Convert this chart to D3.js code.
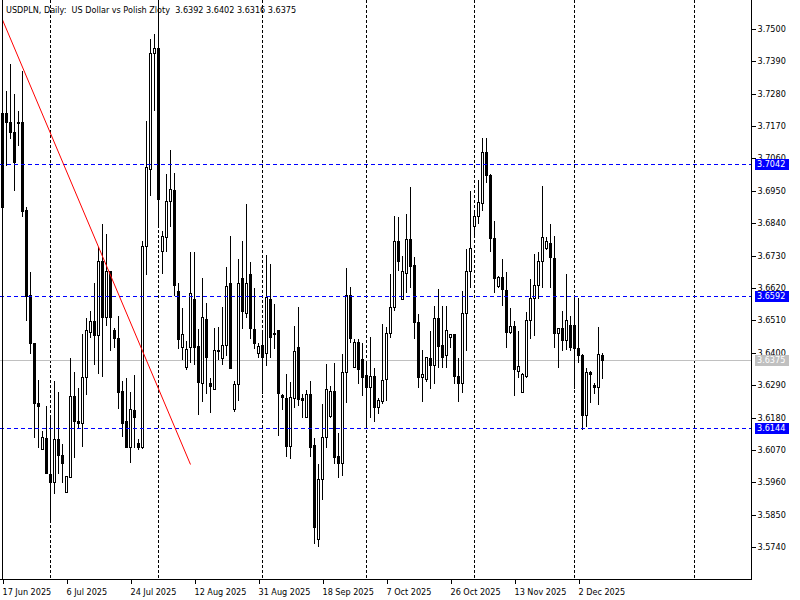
<!DOCTYPE html>
<html><head><meta charset="utf-8">
<script src="https://cdn.jsdelivr.net/npm/d3@7"></script>
<style>
body{margin:0;background:#fff}
svg{display:block}
text{font-family:"DejaVu Sans Condensed","DejaVu Sans",sans-serif;font-size:9px;fill:#000;white-space:pre}
</style>
</head><body>
<svg id="c" width="800" height="600"></svg>
<script>
const title = "USDPLN, Daily:  US Dollar vs Polish Zloty  3.6392 3.6402 3.6316 3.6375";

const opens = [
3.6896,3.7214,3.7182,3.7151,3.7185,3.7185,3.6885,3.6597,3.6435,3.6231,
3.6073,3.6110,3.5989,3.5963,3.6107,3.6054,3.5926,3.5980,3.6254,3.6170,
3.6163,3.6317,3.6469,3.6509,3.6459,3.6710,3.6521,3.6676,3.6476,3.6450,
3.6272,3.6167,3.6082,3.6206,3.6095,3.6082,3.6761,3.7024,3.7417,3.7434,
3.6744,3.6793,3.6914,3.6953,3.6610,3.6419,3.6353,3.6419,3.6582,3.6424,
3.6297,3.6514,3.6299,3.6277,3.6410,3.6382,3.6427,3.6636,3.6209,3.6295,
3.6653,3.6536,3.6668,3.6480,3.6400,3.6427,3.6399,3.6583,3.6467,3.6478,
3.6257,3.6246,3.6085,3.6246,3.6419,3.6246,3.6183,3.6261,3.6087,3.5767,
3.5971,3.6114,3.6186,3.6272,3.6050,3.6027,3.6336,3.6597,3.6353,3.6438,
3.6378,3.6325,3.6285,3.6322,3.6215,3.6238,3.6311,3.6467,3.6555,3.6780,
3.6582,3.6672,3.6786,3.6699,3.6506,3.6317,3.6311,3.6382,3.6359,3.6518,
3.6427,3.6393,3.6455,3.6464,3.6322,3.6299,3.6535,3.6679,3.6829,3.6863,
3.6910,3.7081,3.7004,3.6789,3.6628,3.6659,3.6614,3.6472,3.6492,3.6340,
3.6268,3.6322,3.6512,3.6586,3.6631,3.6710,3.6755,3.6774,3.6721,3.6467,
3.6484,3.6442,3.6495,3.6495,3.6416,3.6393,3.6189,3.6334,3.6291,3.6283,
3.6392];
const highs = [
3.7300,3.7293,3.7383,3.7282,3.7223,3.7361,3.6899,3.6679,3.6435,3.6311,
3.6138,3.6223,3.6186,3.6308,3.6271,3.6093,3.5982,3.6387,3.6340,3.6285,
3.6467,3.6520,3.6546,3.6639,3.6763,3.6842,3.6806,3.6679,3.6489,3.6529,
3.6308,3.6319,3.6272,3.6329,3.6110,3.6784,3.7191,3.7470,3.7487,3.7592,
3.6817,3.7010,3.7092,3.7015,3.6642,3.6557,3.6444,3.6744,3.6747,3.6485,
3.6657,3.6574,3.6319,3.6487,3.6490,3.6559,3.6695,3.6800,3.6308,3.6721,
3.6784,3.6909,3.6712,3.6625,3.6438,3.6472,3.6736,3.6704,3.6569,3.6478,
3.6263,3.6333,3.6306,3.6493,3.6559,3.6263,3.6277,3.6308,3.6114,3.6025,
3.6229,3.6367,3.6291,3.6370,3.6130,3.6401,3.6691,3.6627,3.6450,3.6450,
3.6438,3.6370,3.6458,3.6353,3.6251,3.6501,3.6492,3.6670,3.6868,3.6865,
3.6733,3.6874,3.6967,3.6727,3.6535,3.6412,3.6387,3.6478,3.6563,3.6620,
3.6563,3.6563,3.6464,3.6467,3.6387,3.6614,3.6755,3.6953,3.6883,3.6990,
3.7134,3.7134,3.7010,3.6851,3.6665,3.6721,3.6676,3.6557,3.6512,3.6476,
3.6336,3.6543,3.6653,3.6738,3.6744,3.6970,3.6795,3.6842,3.6800,3.6489,
3.6546,3.6672,3.6529,3.6591,3.6591,3.6399,3.6351,3.6342,3.6302,3.6492,
3.6402];
const lows = [
3.6885,3.7038,3.7129,3.6953,3.7106,3.6863,3.6512,3.6399,3.6114,3.6082,
3.6073,3.5991,3.5833,3.5924,3.5993,3.5963,3.5926,3.5980,3.6046,3.6144,
3.6084,3.6260,3.6455,3.6362,3.6331,3.6322,3.6493,3.6410,3.6421,3.6212,
3.6118,3.6082,3.6031,3.6082,3.6073,3.6076,3.6668,3.6936,3.7225,3.6829,
3.6672,3.6744,3.6829,3.6597,3.6416,3.6378,3.6344,3.6370,3.6362,3.6192,
3.6238,3.6263,3.6200,3.6277,3.6380,3.6362,3.6393,3.6348,3.6204,3.6240,
3.6484,3.6522,3.6451,3.6416,3.6387,3.6263,3.6359,3.6387,3.6416,3.6122,
3.6209,3.6050,3.6042,3.6217,3.6223,3.6181,3.6181,3.6050,3.5754,3.5745,
3.5903,3.6082,3.6181,3.6027,3.5978,3.5986,3.6234,3.6438,3.6353,3.6299,
3.6257,3.6155,3.6183,3.6167,3.6195,3.6229,3.6240,3.6455,3.6546,3.6681,
3.6582,3.6608,3.6625,3.6450,3.6283,3.6238,3.6306,3.6280,3.6297,3.6353,
3.6353,3.6351,3.6421,3.6297,3.6238,3.6268,3.6410,3.6623,3.6795,3.6842,
3.6885,3.6981,3.6744,3.6605,3.6625,3.6563,3.6421,3.6467,3.6257,3.6319,
3.6268,3.6319,3.6450,3.6461,3.6586,3.6625,3.6753,3.6623,3.6421,3.6351,
3.6410,3.6412,3.6410,3.6280,3.6370,3.6141,3.6152,3.6234,3.6263,3.6227,
3.6316];
const closes = [
3.7215,3.7183,3.7151,3.7046,3.7180,3.6883,3.6593,3.6433,3.6229,3.6221,
3.6116,3.5991,3.5960,3.6107,3.6054,3.6027,3.5982,3.6254,3.6167,3.6163,
3.6319,3.6478,3.6509,3.6459,3.6710,3.6521,3.6676,3.6521,3.6452,3.6268,
3.6163,3.6082,3.6209,3.6181,3.6082,3.6763,3.7031,3.7417,3.7434,3.6922,
3.6795,3.6914,3.6956,3.6631,3.6446,3.6464,3.6412,3.6603,3.6421,3.6302,
3.6521,3.6387,3.6288,3.6408,3.6405,3.6427,3.6627,3.6348,3.6295,3.6636,
3.6543,3.6638,3.6485,3.6435,3.6424,3.6387,3.6589,3.6455,3.6464,3.6263,
3.6249,3.6085,3.6251,3.6407,3.6243,3.6240,3.6261,3.6082,3.5808,3.5971,
3.6114,3.6277,3.6272,3.6048,3.6027,3.6336,3.6597,3.6450,3.6438,3.6344,
3.6319,3.6285,3.6322,3.6215,3.6240,3.6308,3.6467,3.6555,3.6780,3.6713,
3.6678,3.6786,3.6695,3.6506,3.6317,3.6329,3.6385,3.6359,3.6518,3.6424,
3.6387,3.6476,3.6464,3.6322,3.6299,3.6535,3.6679,3.6755,3.6866,3.6912,
3.7081,3.7004,3.6789,3.6653,3.6659,3.6616,3.6469,3.6492,3.6344,3.6356,
3.6329,3.6512,3.6586,3.6631,3.6710,3.6793,3.6778,3.6725,3.6467,3.6484,
3.6442,3.6510,3.6420,3.6416,3.6393,3.6189,3.6334,3.6328,3.6283,3.6395,
3.6375];

const dateLabels = ["17 Jun 2025","6 Jul 2025","24 Jul 2025","12 Aug 2025","31 Aug 2025","18 Sep 2025","7 Oct 2025","26 Oct 2025","13 Nov 2025","2 Dec 2025"];
const dateLabelIdx = [0,16,32,48,64,80,96,112,128,144];
const monthStartIdx = [12,39,65,91,118,143,173];
const yTicks = [3.7500,3.7390,3.7280,3.7170,3.7060,3.6950,3.6840,3.6730,3.6620,3.6510,3.6400,3.6290,3.6180,3.6070,3.5960,3.5850,3.5740];
const levels = [3.7042,3.6592,3.6144];
const lastPrice = 3.6375;
const trendIdx = [0,47];
const trendVal = [3.7530,3.6021];

const plotR = 751, plotB = 579;
const svg = d3.select("#c");
const x = d3.scaleLinear().domain([0,150]).range([2.5,602.5]);
const y = d3.scaleLinear().domain([3.5740,3.7500]).range([547.3,28.7]);
const py = v => Math.round(y(v)) + 0.5;

svg.append("rect").attr("width",800).attr("height",600).attr("fill","#fff");
svg.append("defs").append("clipPath").attr("id","clip")
  .append("rect").attr("x",0).attr("y",0).attr("width",plotR).attr("height",plotB);
const g = svg.append("g").attr("clip-path","url(#clip)").attr("shape-rendering","crispEdges");

// vertical grid (month starts)
g.selectAll("line.vg").data(monthStartIdx).join("line")
  .attr("x1",d=>x(d)).attr("x2",d=>x(d)).attr("y1",0).attr("y2",plotB)
  .attr("stroke","#000").attr("stroke-dasharray","3,2");

// last price line
g.append("line").attr("x1",0).attr("x2",plotR).attr("y1",py(lastPrice)).attr("y2",py(lastPrice))
  .attr("stroke","#c0c0c0");

// candles
const idx = d3.range(opens.length);
const cg = g.append("g");
cg.selectAll("line.w").data(idx).join("line")
  .attr("x1",i=>x(i)).attr("x2",i=>x(i))
  .attr("y1",i=>py(highs[i])).attr("y2",i=>py(lows[i]))
  .attr("stroke","#000");
cg.selectAll("path.b").data(idx).join("path")
  .attr("d",i=>{
    const t = py(Math.max(opens[i],closes[i])), b = py(Math.min(opens[i],closes[i]));
    const l = x(i)-1, r = x(i)+1;
    return `M${l},${t}H${r}V${b}H${l}Z`;
  })
  .attr("fill",i=>closes[i]>=opens[i]?"#fff":"#000")
  .attr("stroke","#000");

// horizontal levels
g.selectAll("line.lv").data(levels).join("line")
  .attr("x1",0).attr("x2",plotR).attr("y1",d=>py(d)).attr("y2",d=>py(d))
  .attr("stroke","#0000ff").attr("stroke-dasharray","4,3");

// trendline
g.append("line")
  .attr("x1",x(trendIdx[0])).attr("y1",y(trendVal[0]))
  .attr("x2",x(trendIdx[1])).attr("y2",y(trendVal[1]))
  .attr("stroke","#ff0000").attr("shape-rendering","auto");

// frame
const fr = svg.append("g").attr("shape-rendering","crispEdges");
fr.append("line").attr("x1",plotR+0.5).attr("x2",plotR+0.5).attr("y1",0).attr("y2",plotB+1).attr("stroke","#000");
fr.append("line").attr("x1",0).attr("x2",plotR+1).attr("y1",plotB+0.5).attr("y2",plotB+0.5).attr("stroke","#000");
fr.append("line").attr("x1",2.5).attr("x2",2.5).attr("y1",0).attr("y2",plotB).attr("stroke","#000");

// right axis
const ya = svg.append("g").attr("transform",`translate(${plotR+0.5},0)`)
  .call(d3.axisRight(y).tickValues(yTicks).tickSize(4).tickPadding(2).tickFormat(d3.format(".4f")));
ya.select(".domain").remove();
ya.selectAll(".tick line").attr("stroke","#000").attr("shape-rendering","crispEdges");
ya.selectAll(".tick").attr("transform",d=>`translate(0,${py(d)})`);
ya.selectAll(".tick text").attr("font-family",null).attr("font-size",null).attr("fill","#000");

// bottom axis
const xa = svg.append("g").attr("transform",`translate(0,${plotB+0.5})`)
  .call(d3.axisBottom(x).tickValues(dateLabelIdx).tickSize(4).tickFormat((d,i)=>dateLabels[i]));
xa.select(".domain").remove();
xa.selectAll(".tick line").attr("stroke","#000").attr("shape-rendering","crispEdges");
xa.selectAll(".tick text").attr("font-family",null).attr("font-size",null).attr("fill","#000")
  .attr("text-anchor","start").attr("x",-0.5).attr("dy","0.9em");

// level labels (boxes drawn over the axis labels, as in the original)
const lab = svg.append("g");
[...levels.map(v=>({v,c:"#0000ff"})),{v:lastPrice,c:"#c0c0c0"}].forEach(o=>{
  const yy = Math.round(y(o.v));
  lab.append("rect").attr("x",plotR+4).attr("y",yy-5).attr("width",34).attr("height",11).attr("fill",o.c);
  lab.append("text").attr("x",plotR+6).attr("y",yy).attr("dy","0.35em").style("fill","#fff").text(d3.format(".4f")(o.v));
});

// title
svg.append("text").attr("x",6).attr("y",13).attr("xml:space","preserve").text(title);
</script>
</body></html>
